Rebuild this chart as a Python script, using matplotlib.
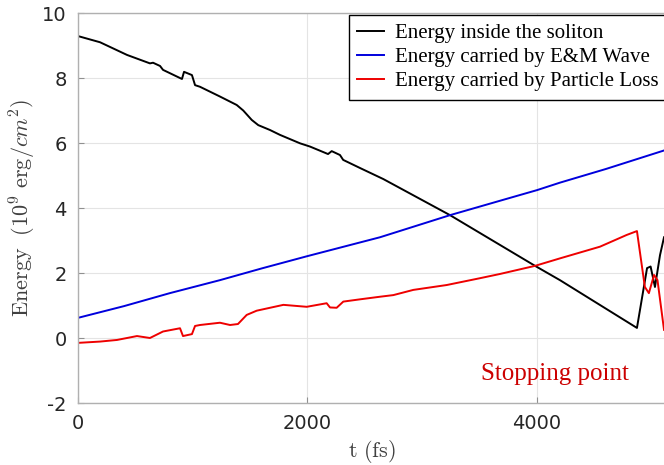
import matplotlib
matplotlib.use("Agg")
import matplotlib.pyplot as plt

# soliton energy (black)
t_sol = [0, 192, 427, 627, 654, 715, 741, 906, 924, 993, 1020, 1063, 1237, 1383, 1440,
         1514, 1571, 1673, 1760, 1935, 2022, 2179, 2211, 2283, 2311, 2458, 2661, 3242,
         3983, 4200, 4871, 4959, 4990, 5028, 5072, 5107]
e_sol = [9.29, 9.10, 8.71, 8.45, 8.47, 8.37, 8.25, 7.97, 8.19, 8.09, 7.78, 7.73, 7.43, 7.17, 7.00,
         6.71, 6.55, 6.40, 6.25, 5.99, 5.89, 5.66, 5.75, 5.63, 5.48, 5.23, 4.89, 3.78,
         2.22, 1.78, 0.31, 2.15, 2.20, 1.57, 2.55, 3.10]

# E&M wave energy (blue)
t_em = [0, 400, 800, 1237, 1600, 2000, 2632, 3242, 3704, 4000, 4200, 4600, 5107]
e_em = [0.62, 0.98, 1.38, 1.78, 2.14, 2.52, 3.10, 3.78, 4.25, 4.55, 4.78, 5.20, 5.77]

# particle loss energy (red)
t_pl = [0, 192, 340, 514, 627, 741, 889, 915, 993, 1020, 1063, 1237, 1325, 1394, 1470,
        1557, 1790, 1993, 2167, 2196, 2254, 2312, 2458, 2632, 2748, 2922, 3213, 3503,
        3677, 3983, 4200, 4549, 4781, 4871, 4940, 4975, 5020, 5050, 5107]
e_pl = [-0.15, -0.11, -0.06, 0.06, 0.00, 0.20, 0.30, 0.06, 0.12, 0.37, 0.40, 0.47, 0.40, 0.43, 0.71,
        0.84, 1.02, 0.96, 1.07, 0.94, 0.93, 1.12, 1.19, 1.27, 1.32, 1.48, 1.63, 1.84,
        1.97, 2.22, 2.45, 2.81, 3.17, 3.29, 1.57, 1.38, 1.94, 1.78, 0.25]

labels = ["Energy inside the soliton", "Energy carried by E&M Wave",
          "Energy carried by Particle Loss"]

plt.rcParams['mathtext.fontset'] = 'cm'
plt.rcParams['axes.unicode_minus'] = False

fig = plt.figure(figsize=(6.64, 4.65), dpi=100)
ax = fig.add_axes([78 / 664, 62 / 465, 688.5 / 664, 390 / 465])

ax.plot(t_sol, e_sol, color='black', lw=1.4, label=labels[0])
ax.plot(t_em, e_em, color='#0000dd', lw=1.4, label=labels[1])
ax.plot(t_pl, e_pl, color='#ee0000', lw=1.4, label=labels[2])

ax.set_xlim(0, 6000)
ax.set_ylim(-2, 10)
ax.set_xticks([0, 2000, 4000])
ax.set_yticks([-2, 0, 2, 4, 6, 8, 10])
ax.grid(True, color='#e4e4e4', lw=0.8)
ax.set_axisbelow(True)
for s in ax.spines.values():
    s.set_color('#b0b0b0')
    s.set_linewidth(1.0)
ax.tick_params(direction='in', length=4, color='#909090', labelsize=14,
               labelcolor='#262626', pad=8)

ax.set_xlabel(r'$\mathrm{t\ (fs)}$', fontsize=16, color='#404040')
ax.xaxis.set_label_coords(0.427, -0.09)
ax.set_ylabel(r'$\mathrm{Energy}\ \ (10^9\ \mathrm{erg}/cm^2)$', fontsize=16, color='#404040')
ax.yaxis.set_label_coords(-0.058, 0.5)

ax.text(4157, -1.1, 'Stopping point', color='#cc0000', fontsize=18,
        family='Liberation Serif', ha='center', va='center')

leg = ax.legend(loc='upper left', bbox_to_anchor=(349 / 664, 450 / 465),
                bbox_transform=fig.transFigure, prop={'family': 'Liberation Serif', 'size': 15},
                frameon=True, fancybox=False, framealpha=1, edgecolor='black',
                handlelength=1.3, handletextpad=0.5, labelspacing=0.22, borderpad=0.4,
                borderaxespad=0)
leg.get_frame().set_linewidth(1.0)

fig.savefig('out.png', dpi=100)
